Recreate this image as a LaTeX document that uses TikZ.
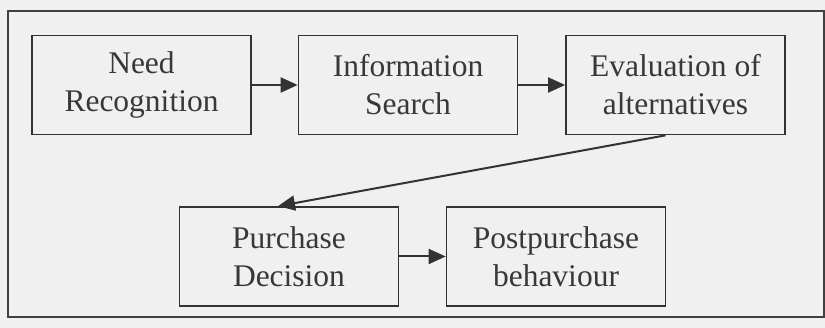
\documentclass[tikz,border=0pt]{standalone}
\usepackage{fontspec}
\setmainfont{Liberation Serif}
\usetikzlibrary{arrows.meta}
\begin{document}
\begin{tikzpicture}[x=1pt,y=-1pt,
  stagebox/.style={draw=black!80, line width=1.7pt, minimum width=219pt, minimum height=99pt,
    align=center, inner sep=0pt, text=black!78, font=\fontsize{31.5}{38}\selectfont},
  flow/.style={draw=black!80, line width=2pt, -{Triangle[length=17pt,width=15pt]}}]
  \fill[black!6] (0,0) rectangle (825,328);
  \useasboundingbox (0,0) rectangle (825,328);
  \draw[black!75, line width=1.6pt] (8,11) rectangle (824,317);
  \node[stagebox] (b1) at (141.5,85) {Need\\Recognition};
  \node[stagebox] (b2) at (408,85) {Information\\Search};
  \node[stagebox] (b3) at (675.5,85) {Evaluation of\\alternatives};
  \node[stagebox] (b4) at (289,256.5) {Purchase\\Decision};
  \node[stagebox] (b5) at (556,256.5) {Postpurchase\\behaviour};
  \draw[flow] (b1) -- (b2);
  \draw[flow] (b2) -- (b3);
  \draw[flow] ([xshift=-10pt]b3.south) -- ([xshift=-11pt]b4.north);
  \draw[flow] (b4) -- (b5);
\end{tikzpicture}
\end{document}
